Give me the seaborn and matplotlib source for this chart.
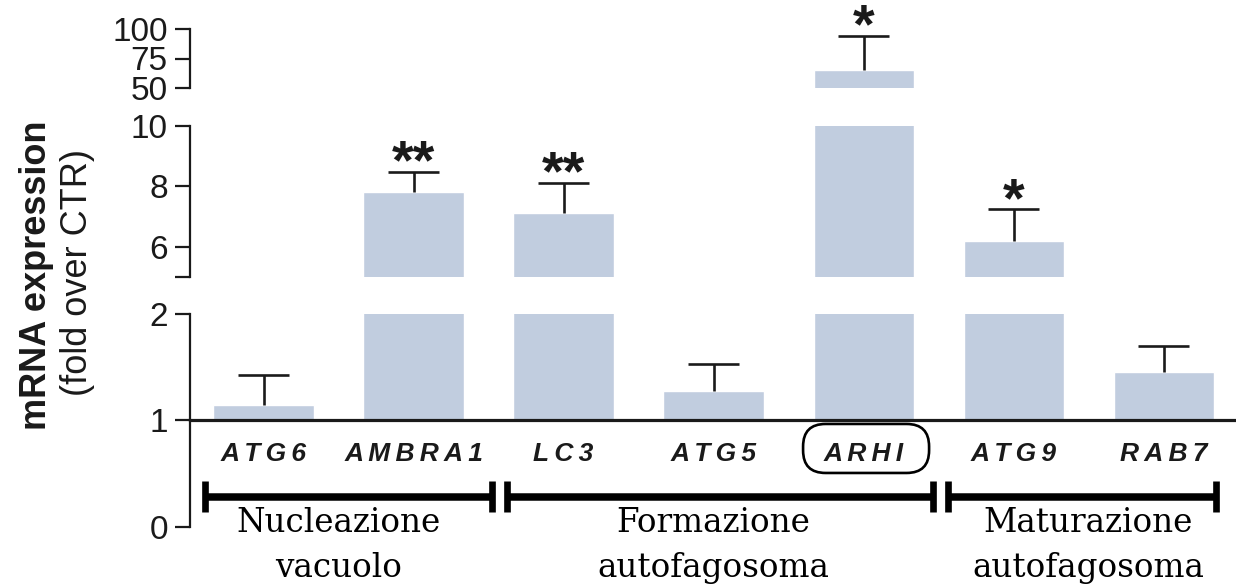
import numpy as np
import pandas as pd
import seaborn as sns
import matplotlib.pyplot as plt
from matplotlib.patches import FancyBboxPatch
from matplotlib.ticker import FixedLocator

# ---- data -------------------------------------------------------------
genes = ["ATG6", "AMBRA1", "LC3", "ATG5", "ARHI", "ATG9", "RAB7"]
fold_change = [1.14, 7.83, 7.11, 1.27, 65.3, 6.19, 1.45]
sem = [0.28, 0.66, 1.01, 0.26, 29.0, 1.05, 0.25]
significance = ["", "**", "**", "", "*", "*", ""]
highlighted_gene = "ARHI"

stage_line1 = ["Nucleazione", "Formazione", "Maturazione"]
stage_line2 = ["vacuolo", "autofagosoma", "autofagosoma"]
stage_members = [["ATG6", "AMBRA1"], ["LC3", "ATG5", "ARHI"], ["ATG9", "RAB7"]]

# broken y axis, top to bottom: limits, ticks and tick labels
seg_limits = [(50, 100), (5, 10), (1, 2), (0, 1)]
seg_ticks = [[50, 75, 100], [5, 6, 8, 10], [1, 2], [0]]
seg_ticklabels = [["50", "75", "100"], ["", "6", "8", "10"], ["1", "2"], ["0"]]
seg_break_ends = [[50], [5, 10], [2], []]

# ---- style ------------------------------------------------------------
sns.set_style("ticks")
plt.rcParams["font.family"] = ["Liberation Sans", "DejaVu Sans"]
BAR = "#c1cddf"
INK = "#1a1a1a"

W, H = 1236, 586
fig = plt.figure(figsize=(W / 100, H / 100), dpi=100)
X0, X1 = 190, 1236
panel_px = [(29, 88), (126, 277), (314, 420), (420, 527)]
XLIM = (-0.49, 6.483)

df = pd.DataFrame({"gene": genes, "fold": fold_change, "sem": sem})
x = np.arange(len(genes))
upper = np.array(fold_change) + np.array(sem)

axes = []
for k, (top, bot) in enumerate(panel_px):
    ax = fig.add_axes([X0 / W, (H - bot) / H, (X1 - X0) / W, (bot - top) / H])
    axes.append(ax)
    lo, hi = seg_limits[k]
    if k < 3:
        sns.barplot(data=df, x="gene", y="fold", color=BAR, saturation=1,
                    width=0.667, errorbar=None, ax=ax)
        ax.vlines(x, df["fold"], upper, color=INK, lw=1.9)
        ax.hlines(upper, x - 0.173, x + 0.173, color=INK, lw=1.9)
    ax.set_xlim(*XLIM)
    ax.set_ylim(lo, hi)
    ax.set_xlabel("")
    ax.set_ylabel("")
    for s in ("top", "right"):
        ax.spines[s].set_visible(False)
    ax.spines["bottom"].set_visible(k == 2)
    ax.spines["left"].set_linewidth(1.6)
    ax.spines["left"].set_color(INK)
    ax.set_yticks(seg_ticks[k])
    ax.set_yticklabels(seg_ticklabels[k])
    ax.yaxis.set_minor_locator(FixedLocator(seg_break_ends[k]))
    ax.tick_params(axis="y", which="major", direction="out", length=11,
                   width=1.6, labelsize=24, pad=5, colors=INK)
    ax.tick_params(axis="y", which="minor", direction="in", length=7,
                   width=1.6, left=True, color=INK)
    ax.tick_params(axis="x", which="both", length=0, bottom=False)
    if k != 2:
        ax.set_xticks([])
    ax.patch.set_alpha(0)

# significance stars above the error caps
for i, mark in enumerate(significance):
    if not mark:
        continue
    for k in range(3):
        lo, hi = seg_limits[k]
        if lo <= upper[i] <= hi:
            axes[k].annotate(mark, xy=(x[i], upper[i]), xytext=(0, -5),
                             textcoords="offset points", ha="center",
                             va="baseline", fontsize=40, fontweight="bold",
                             color=INK, annotation_clip=False)

# x axis at fold = 1 with gene names
low = axes[2]
low.spines["bottom"].set_linewidth(2.3)
low.spines["bottom"].set_color(INK)
low.set_xticks(x)
low.set_xticklabels(["\u2009".join(g) for g in genes], fontsize=19,
                    fontweight="bold", fontstyle="italic", color=INK)
low.tick_params(axis="x", pad=16, labelbottom=True)

base = axes[3]
base.set_xticks([])

# rounded frame around the highlighted gene
px_per_x = (X1 - X0) / (XLIM[1] - XLIM[0])
px_per_y = panel_px[3][1] - panel_px[3][0]
hi_idx = genes.index(highlighted_gene)
frame = FancyBboxPatch((hi_idx - 0.403, 0.505), 0.84, 0.458,
                       boxstyle="round,pad=0,rounding_size=0.15",
                       mutation_aspect=px_per_x / px_per_y,
                       transform=base.transData, clip_on=False,
                       fc="none", ec="black", lw=1.9)
base.add_patch(frame)

# stage brackets and names
bracket_pad = [(0.39, 0.52), (0.38, 0.46), (0.44, 0.35)]
for members, pad, l1, l2 in zip(stage_members, bracket_pad, stage_line1, stage_line2):
    idx = [genes.index(m) for m in members]
    a, b = idx[0] - pad[0], idx[-1] + pad[1]
    base.plot([a, b], [0.28, 0.28], color="black", lw=5.4,
              solid_capstyle="butt", clip_on=False)
    for e in (a, b):
        base.plot([e, e], [0.14, 0.43], color="black", lw=4.8,
                  solid_capstyle="butt", clip_on=False)
    mid = (idx[0] + idx[-1]) / 2
    base.text(mid, -0.047, l1, ha="center", va="baseline",
              fontsize=23.5, family="DejaVu Serif", color="black")
    base.text(mid, -0.467, l2, ha="center", va="baseline",
              fontsize=23.5, family="DejaVu Serif", color="black")

# y axis title
fig.text(46 / W, (H - 275.5) / H, "mRNA expression", rotation=90,
         rotation_mode="anchor", ha="center", va="baseline",
         fontsize=26, fontweight="bold", color=INK)
fig.text(87 / W, (H - 272.5) / H, "(fold over CTR)", rotation=90,
         rotation_mode="anchor", ha="center", va="baseline",
         fontsize=26, color=INK)

fig.savefig("out.png", dpi=100)
